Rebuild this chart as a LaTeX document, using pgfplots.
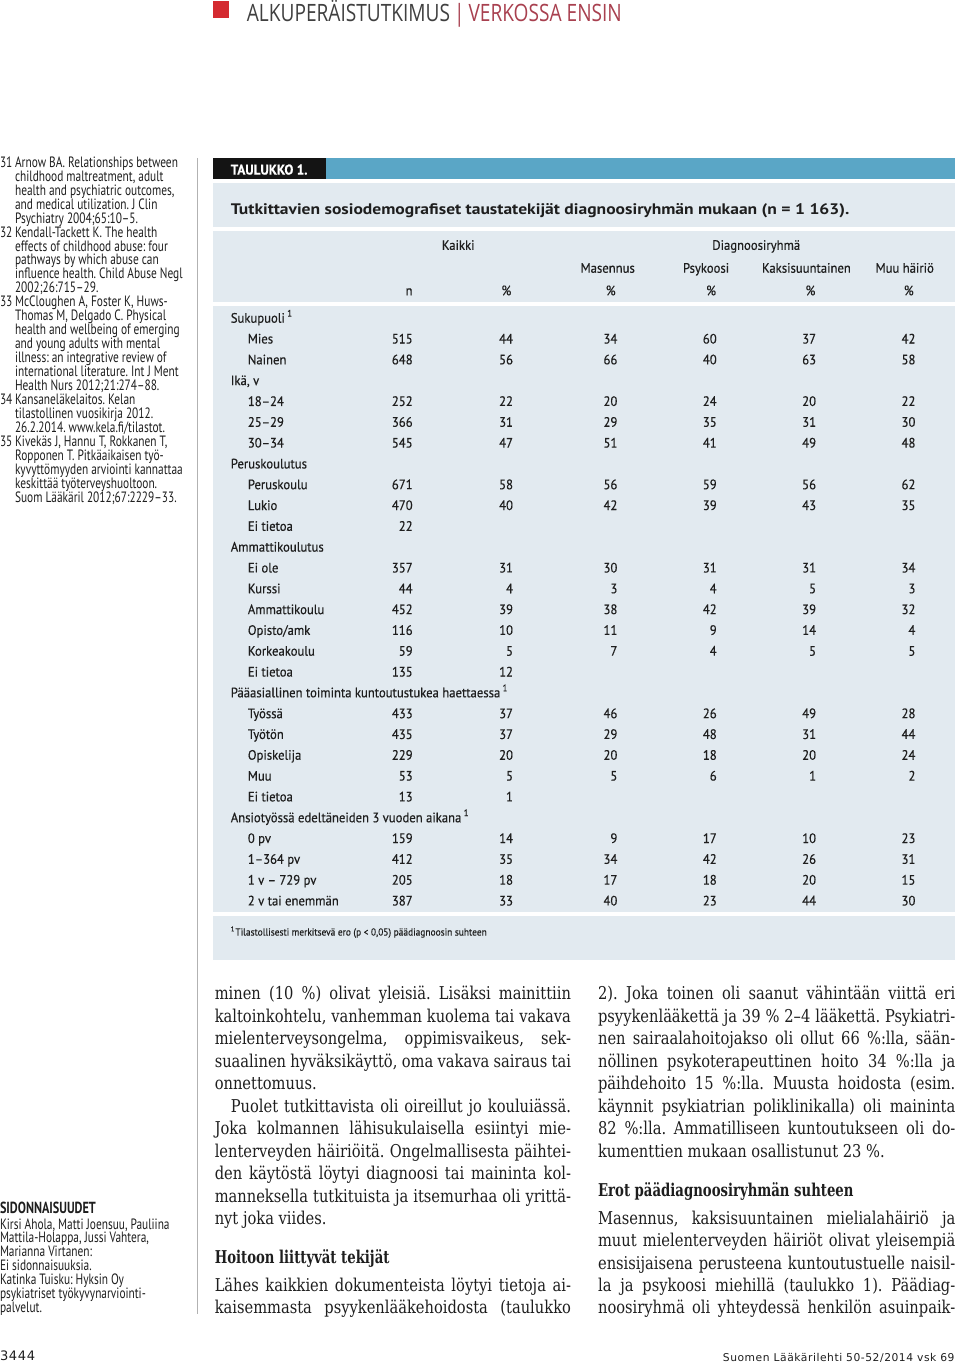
\documentclass[border=0pt]{standalone}
\usepackage{fontspec}
\usepackage{pgfplots}
\usepackage{pgfplotstable}
\pgfplotsset{compat=1.18}
\setmainfont{DejaVu Serif}[FakeStretch=0.83]
\newfontfamily\headf{DejaVu Serif Bold}[FakeStretch=0.75]
\newfontfamily\refsf{PT Sans}[FakeStretch=0.76]
\newfontfamily\tabsf{PT Sans}[FakeStretch=0.93, FakeBold=0.4]
\newfontfamily\ttlsf{PT Sans Bold}[FakeStretch=1.15]
\newfontfamily\hdrsf{Open Sans}[FakeStretch=0.8]
\newfontfamily\footsf{DejaVu Sans}[LetterSpace=5]
\frenchspacing

\definecolor{panel}{HTML}{E2EAF0}
\definecolor{barblue}{HTML}{5AA6C6}
\definecolor{hdrred}{HTML}{D42A30}
\definecolor{hdrmaroon}{HTML}{A8404F}
\definecolor{ink}{HTML}{1E1E1E}

% page positions are given in pixels of the 960x1362 original
\newcommand\R[3]{\node[anchor=base west,inner sep=0pt,text=ink,font=\refsf\fontsize{7.45}{8}\selectfont] at (axis cs:#1,#2) {#3};}
\newcommand\Tl[3]{\node[anchor=base west,inner sep=0pt,text=ink,font=\tabsf\fontsize{6.8}{7}\selectfont] at (axis cs:#1,#2) {#3};}
\newcommand\Tc[3]{\node[anchor=base,inner sep=0pt,text=ink,font=\tabsf\fontsize{6.8}{7}\selectfont] at (axis cs:#1,#2) {#3};}
\newcommand\J[4]{\node[anchor=base west,inner sep=0pt,text=ink,font=\fontsize{8.8}{10}\selectfont] at (axis cs:#1,#2) {\makebox[#3][s]{#4}};}
\newcommand\Lb[3]{\node[anchor=base west,inner sep=0pt,text=ink,font=\fontsize{8.8}{10}\selectfont] at (axis cs:#1,#2) {#3};}
\newcommand\Hb[3]{\node[anchor=base west,inner sep=0pt,text=ink,font=\headf\fontsize{8.8}{10}\selectfont] at (axis cs:#1,#2) {#3};}

% table 1: row index, n, %, Masennus, Psykoosi, Kaksisuuntainen, Muu häiriö
\pgfplotstableread{
r n p mas psy kak muu
1 515 44 34 60 37 42
2 648 56 66 40 63 58
4 252 22 20 24 20 22
5 366 31 29 35 31 30
6 545 47 51 41 49 48
8 671 58 56 59 56 62
9 470 40 42 39 43 35
10 22 {} {} {} {} {}
12 357 31 30 31 31 34
13 44 4 3 4 5 3
14 452 39 38 42 39 32
15 116 10 11 9 14 4
16 59 5 7 4 5 5
17 135 12 {} {} {} {}
19 433 37 46 26 49 28
20 435 37 29 48 31 44
21 229 20 20 18 20 24
22 53 5 5 6 1 2
23 13 1 {} {} {} {}
25 159 14 9 17 10 23
26 412 35 34 42 26 31
27 205 18 17 18 20 15
28 387 33 40 23 44 30
}\tabdata

\pgfplotsset{
  numcol/.style={only marks, mark=none, nodes near coords,
    point meta=explicit symbolic,
    nodes near coords style={anchor=base east, inner sep=0pt, text=ink,
      font=\tabsf\fontsize{6.8}{7}\selectfont}},
}

\begin{document}
\begin{tikzpicture}
\begin{axis}[
    scale only axis, width=480pt, height=681pt,
    xmin=0, xmax=960, ymin=0, ymax=1362, y dir=reverse,
    hide axis, clip=false,
]
% header
\fill[hdrred] (axis cs:215,4) rectangle (axis cs:231,21);
\node[anchor=base west,inner sep=0pt,font=\hdrsf\fontsize{11.9}{13}\selectfont]
  at (axis cs:248,24) {\textcolor{ink!85}{ALKUPERÄISTUTKIMUS}\,\textcolor{hdrmaroon}{|}\,\textcolor{hdrmaroon}{VERKOSSA ENSIN}};

% left column rule
\draw[gray!60, line width=0.5pt] (axis cs:199.5,160) -- (axis cs:199.5,1312);

% table panels
\fill[black!92] (axis cs:215,160) rectangle (axis cs:327,181.5);
\fill[barblue] (axis cs:327,160) rectangle (axis cs:954,181.5);
\fill[panel] (axis cs:215,185.5) rectangle (axis cs:954,229);
\fill[panel] (axis cs:215,232.5) rectangle (axis cs:954,303.5);
\fill[panel] (axis cs:215,307.5) rectangle (axis cs:954,912);
\fill[panel] (axis cs:215,916) rectangle (axis cs:954,959);
\node[anchor=base west,inner sep=0pt,text=white,font=\tabsf\bfseries\fontsize{7.1}{8}\selectfont]
  at (axis cs:232,176.7) {TAULUKKO 1.};
\node[anchor=base west,inner sep=0pt,text=ink,font=\ttlsf\fontsize{7.6}{8}\selectfont]
  at (axis cs:232,216) {Tutkittavien sosiodemografiset taustatekijät diagnoosiryhmän mukaan (n = 1 163).};

% column heads
\Tc{459}{251.7}{Kaikki}
\Tc{756}{251.7}{Diagnoosiryhmä}
\Tc{608}{274.5}{Masennus}
\Tc{706}{274.5}{Psykoosi}
\Tc{806}{274.5}{Kaksisuuntainen}
\Tc{904}{274.5}{Muu häiriö}
\Tc{410}{297}{n}
\Tc{507}{297}{\%}
\Tc{611}{297}{\%}
\Tc{711}{297}{\%}
\Tc{810}{297}{\%}
\Tc{908}{297}{\%}

% row labels
\Tl{232}{324.3}{Sukupuoli\,\textsuperscript{1}}
\Tl{249}{345.0}{Mies}
\Tl{249}{365.8}{Nainen}
\Tl{232}{386.5}{Ikä, v}
\Tl{249}{407.3}{18–24}
\Tl{249}{428.0}{25–29}
\Tl{249}{448.7}{30–34}
\Tl{232}{469.5}{Peruskoulutus}
\Tl{249}{490.2}{Peruskoulu}
\Tl{249}{511.0}{Lukio}
\Tl{249}{531.7}{Ei tietoa}
\Tl{232}{552.4}{Ammattikoulutus}
\Tl{249}{573.2}{Ei ole}
\Tl{249}{593.9}{Kurssi}
\Tl{249}{614.7}{Ammattikoulu}
\Tl{249}{635.4}{Opisto/amk}
\Tl{249}{656.1}{Korkeakoulu}
\Tl{249}{676.9}{Ei tietoa}
\Tl{232}{697.6}{Pääasiallinen toiminta kuntoutustukea haettaessa\,\textsuperscript{1}}
\Tl{249}{718.4}{Työssä}
\Tl{249}{739.1}{Työtön}
\Tl{249}{759.8}{Opiskelija}
\Tl{249}{780.6}{Muu}
\Tl{249}{801.3}{Ei tietoa}
\Tl{232}{822.1}{Ansiotyössä edeltäneiden 3 vuoden aikana\,\textsuperscript{1}}
\Tl{249}{842.8}{0 pv}
\Tl{249}{863.5}{1–364 pv}
\Tl{249}{884.3}{1 v – 729 pv}
\Tl{249}{905.0}{2 v tai enemmän}

% table values
\addplot[numcol] table[x expr=414, y expr=324.3+20.74*\thisrow{r}, meta=n] {\tabdata};
\addplot[numcol] table[x expr=514, y expr=324.3+20.74*\thisrow{r}, meta=p] {\tabdata};
\addplot[numcol] table[x expr=618, y expr=324.3+20.74*\thisrow{r}, meta=mas] {\tabdata};
\addplot[numcol] table[x expr=717, y expr=324.3+20.74*\thisrow{r}, meta=psy] {\tabdata};
\addplot[numcol] table[x expr=816, y expr=324.3+20.74*\thisrow{r}, meta=kak] {\tabdata};
\addplot[numcol] table[x expr=915, y expr=324.3+20.74*\thisrow{r}, meta=muu] {\tabdata};

\node[anchor=base west,inner sep=0pt,text=ink,font=\tabsf\fontsize{5.05}{6}\selectfont]
  at (axis cs:232,935) {\textsuperscript{1}Tilastollisesti merkitsevä ero (p < 0,05) päädiagnoosin suhteen};

% references
\R{2}{169.5}{31} \R{17}{169.5}{Arnow BA. Relationships between}
\R{17}{183.4}{childhood maltreatment, adult}
\R{17}{197.3}{health and psychiatric outcomes,}
\R{17}{211.2}{and medical utilization. J Clin}
\R{17}{225.1}{Psychiatry 2004;65:10–5.}
\R{2}{239.0}{32} \R{17}{239.0}{Kendall-Tackett K. The health}
\R{17}{252.9}{effects of childhood abuse: four}
\R{17}{266.8}{pathways by which abuse can}
\R{17}{280.7}{influence health. Child Abuse Negl}
\R{17}{294.6}{2002;26:715–29.}
\R{2}{308.5}{33} \R{17}{308.5}{McCloughen A, Foster K, Huws-}
\R{17}{322.4}{Thomas M, Delgado C. Physical}
\R{17}{336.3}{health and wellbeing of emerging}
\R{17}{350.2}{and young adults with mental}
\R{17}{364.1}{illness: an integrative review of}
\R{17}{378.0}{international literature. Int J Ment}
\R{17}{391.9}{Health Nurs 2012;21:274–88.}
\R{2}{405.8}{34} \R{17}{405.8}{Kansaneläkelaitos. Kelan}
\R{17}{419.7}{tilastollinen vuosikirja 2012.}
\R{17}{433.6}{26.2.2014. www.kela.fi/tilastot.}
\R{2}{447.5}{35} \R{17}{447.5}{Kivekäs J, Hannu T, Rokkanen T,}
\R{17}{461.4}{Ropponen T. Pitkäaikaisen työ-}
\R{17}{475.3}{kyvyttömyyden arviointi kannattaa}
\R{17}{489.2}{keskittää työterveyshuoltoon.}
\R{17}{503.1}{Suom Lääkäril 2012;67:2229–33.}

% disclosures
\node[anchor=base west,inner sep=0pt,text=ink,font=\refsf\bfseries\fontsize{8}{8}\selectfont]
  at (axis cs:2,1212) {SIDONNAISUUDET};
\R{2}{1227.5}{Kirsi Ahola, Matti Joensuu, Pauliina}
\R{2}{1241.3}{Mattila-Holappa, Jussi Vahtera,}
\R{2}{1255.1}{Marianna Virtanen:}
\R{2}{1268.9}{Ei sidonnaisuuksia.}
\R{2}{1282.7}{Katinka Tuisku: Hyksin Oy}
\R{2}{1296.5}{psykiatriset työkyvynarviointi-}
\R{2}{1310.3}{palvelut.}

% body text, left column
\J{216}{999.0}{177.5pt}{minen (10 \%) olivat yleisiä. Lisäksi mainittiin}
\J{216}{1021.4}{177.5pt}{kaltoinkohtelu, vanhemman kuolema tai vakava}
\J{216}{1043.8}{177.5pt}{mielenterveysongelma, oppimisvaikeus, sek-}
\J{216}{1066.2}{177.5pt}{suaalinen hyväksikäyttö, oma vakava sairaus tai}
\Lb{216}{1088.6}{onnettomuus.}
\J{232}{1111.0}{169.5pt}{Puolet tutkittavista oli oireillut jo kouluiässä.}
\J{216}{1133.4}{177.5pt}{Joka kolmannen lähisukulaisella esiintyi mie-}
\J{216}{1155.8}{177.5pt}{lenterveyden häiriöitä. Ongelmallisesta päihtei-}
\J{216}{1178.2}{177.5pt}{den käytöstä löytyi diagnoosi tai maininta kol-}
\J{216}{1200.6}{177.5pt}{manneksella tutkituista ja itsemurhaa oli yrittä-}
\Lb{216}{1223.0}{nyt joka viides.}
\Hb{216}{1262.0}{Hoitoon liittyvät tekijät}
\J{216}{1289.5}{177.5pt}{Lähes kaikkien dokumenteista löytyi tietoja ai-}
\J{216}{1312.0}{177.5pt}{kaisemmasta psyykenlääkehoidosta (taulukko}

% body text, right column
\J{598}{999.0}{178pt}{2). Joka toinen oli saanut vähintään viittä eri}
\J{598}{1021.4}{178pt}{psyykenlääkettä ja 39 \% 2–4 lääkettä. Psykiatri-}
\J{598}{1043.8}{178pt}{nen sairaalahoitojakso oli ollut 66 \%:lla, sään-}
\J{598}{1066.2}{178pt}{nöllinen psykoterapeuttinen hoito 34 \%:lla ja}
\J{598}{1088.6}{178pt}{päihdehoito 15 \%:lla. Muusta hoidosta (esim.}
\J{598}{1111.0}{178pt}{käynnit psykiatrian poliklinikalla) oli maininta}
\J{598}{1133.4}{178pt}{82 \%:lla. Ammatilliseen kuntoutukseen oli do-}
\Lb{598}{1155.8}{kumenttien mukaan osallistunut 23 \%.}
\Hb{598}{1195.5}{Erot päädiagnoosiryhmän suhteen}
\J{598}{1222.5}{178pt}{Masennus, kaksisuuntainen mielialahäiriö ja}
\J{598}{1245.0}{178pt}{muut mielenterveyden häiriöt olivat yleisempiä}
\J{598}{1267.5}{178pt}{ensisijaisena perusteena kuntoutustuelle naisil-}
\J{598}{1290.0}{178pt}{la ja psykoosi miehillä (taulukko 1). Päädiag-}
\J{598}{1312.0}{178pt}{noosiryhmä oli yhteydessä henkilön asuinpaik-}

% footer
\node[anchor=base west,inner sep=0pt,text=ink,font=\footsf\fontsize{6.5}{7}\selectfont]
  at (axis cs:2,1358.5) {3444};
\node[anchor=base east,inner sep=0pt,text=ink,font=\footsf\fontsize{5.35}{6}\selectfont]
  at (axis cs:954,1359) {Suomen Lääkärilehti 50-52/2014 vsk 69};
\end{axis}
\end{tikzpicture}
\end{document}
